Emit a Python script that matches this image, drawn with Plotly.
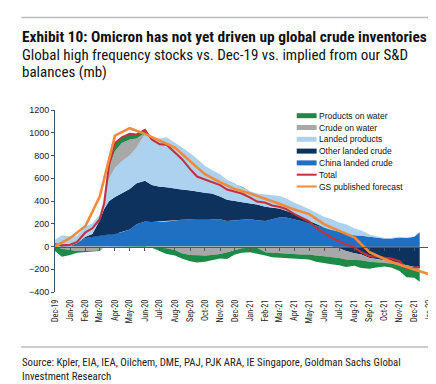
import numpy as np
import plotly.graph_objects as go

# ---------------- data (mb vs Dec-19) ----------------
dates = ["2019-12-01", "2019-12-15", "2020-01-01", "2020-01-15", "2020-02-01", "2020-02-15",
         "2020-03-01", "2020-03-10", "2020-03-20", "2020-04-01", "2020-04-15", "2020-05-01",
         "2020-05-15", "2020-06-01", "2020-06-15", "2020-07-01", "2020-07-15", "2020-08-01",
         "2020-08-15", "2020-09-01", "2020-09-15", "2020-10-01", "2020-10-15", "2020-11-01",
         "2020-11-15", "2020-12-01", "2020-12-15", "2021-01-01", "2021-01-15", "2021-02-01",
         "2021-02-15", "2021-03-01", "2021-03-15", "2021-04-01", "2021-04-15", "2021-05-01",
         "2021-05-15", "2021-06-01", "2021-06-15", "2021-07-01", "2021-07-15", "2021-08-01",
         "2021-08-15", "2021-09-01", "2021-09-15", "2021-10-01", "2021-10-15", "2021-11-01",
         "2021-11-15", "2021-12-01", "2021-12-12"]

china_landed_crude = [0, 0, 5, 30, 75, 85, 95, 100, 105, 110, 125, 150, 195, 220, 215, 215, 220,
                      230, 235, 240, 245, 245, 240, 240, 225, 230, 235, 240, 230, 225, 240, 255,
                      255, 240, 225, 200, 185, 160, 145, 130, 115, 100, 95, 85, 80, 70, 70, 80,
                      75, 85, 125]
other_landed_crude = [0, 0, 0, 0, 10, 25, 135, 230, 295, 326, 345, 355, 360, 357, 325, 310, 300,
                      280, 265, 254, 240, 225, 225, 200, 185, 170, 155, 137, 140, 125, 100, 80,
                      60, 50, 40, 25, 15, 5, 0, -15, -40, -60, -70, -100, -110, -120, -130, -145,
                      -165, -180, -190]
landed_products = [60, 100, 85, 65, 90, 95, 50, 50, 200, 254, 280, 295, 315, 410, 410, 425, 440,
                   400, 370, 326, 285, 240, 207, 195, 175, 150, 135, 108, 95, 105, 110, 110, 110,
                   95, 95, 105, 100, 95, 90, 80, 80, 60, 45, 20, 10, 5, 5, 5, 5, 5, 5]
crude_on_water = [0, -20, -30, -40, -40, -40, -30, 0, 100, 150, 160, 140, 80, 10, -5, -10, -15,
                  -30, -60, -75, -80, -80, -75, -65, -50, -30, -15, -10, -10, -50, -55, -60, -60,
                  -65, -70, -70, -80, -85, -90, -85, -75, -60, -50, -35, -30, -25, -20, -20, -25,
                  -20, -20]
products_on_water = [-40, -70, -45, -15, -10, -5, -10, 0, 20, 70, 50, 50, 35, 25, -5, -30, -50,
                     -50, -45, -55, -60, -55, -45, -40, -60, -40, -40, -40, -50, -30, -40, -40,
                     -40, -40, -40, -45, -55, -60, -65, -65, -65, -50, -70, -60, -45, -30, -35,
                     -50, -80, -75, -100]
total = [20, 10, 15, 40, 125, 160, 240, 380, 720, 910, 960, 990, 985, 1025, 940, 900, 895, 830,
         770, 680, 615, 590, 568, 540, 500, 478, 465, 430, 395, 385, 360, 350, 330, 285, 255, 220,
         165, 115, 80, 45, 20, -10, -50, -85, -90, -95, -105, -130, -190, -185, -180]

forecast_dates = ["2019-12-01", "2020-01-01", "2020-02-01", "2020-03-01", "2020-04-01",
                  "2020-05-01", "2020-06-01", "2020-07-01", "2020-08-01", "2020-09-01",
                  "2020-10-01", "2020-11-01", "2020-12-01", "2021-01-01", "2021-02-01",
                  "2021-03-01", "2021-04-01", "2021-05-01", "2021-06-01", "2021-07-01",
                  "2021-08-01", "2021-09-01", "2021-10-01", "2021-11-01", "2021-12-01",
                  "2022-01-01"]
gs_forecast = [0, 75, 180, 440, 975, 1040, 990, 930, 870, 750, 635, 565, 505, 465, 420, 375, 325,
               285, 195, 140, 80, -50, -110, -160, -205, -245]

series_names = ["China landed crude", "Other landed crude", "Landed products",
                "Crude on water", "Products on water"]
series_values = [china_landed_crude, other_landed_crude, landed_products,
                 crude_on_water, products_on_water]
series_colors = ["#1f6fc2", "#0d325e", "#acd2f0", "#a8a8a8", "#1e8a48"]

# ---------------- layout geometry (px) ----------------
WIDTH, HEIGHT = 436, 384
L, R, T, B = 47, 426, 102, 284
W, H = R - L, B - T


def fx(px):
    return (px - L) / W


def fy(py):
    return (B - py) / H


TXT = "Roboto Condensed, Liberation Sans, sans-serif"
AX = "Liberation Sans, Arial, sans-serif"

fig = go.Figure()

# stacked areas: positives stack upward, negatives stack downward
pos_base = np.zeros(len(dates))
neg_base = np.zeros(len(dates))
for name, vals, col in zip(series_names, series_values, series_colors):
    v = np.array(vals, dtype=float)
    pos = np.clip(v, 0, None)
    neg = np.clip(v, None, 0)
    up = pos_base + pos
    dn = neg_base + neg
    for top, bot in ((up, pos_base), (neg_base, dn)):
        fig.add_trace(go.Scatter(
            x=dates + dates[::-1], y=list(top) + list(bot[::-1]),
            fill="toself", fillcolor=col, mode="lines", line=dict(width=0, color=col),
            name=name, showlegend=False, hoverinfo="skip"))
    pos_base = up
    neg_base = dn

fig.add_trace(go.Scatter(x=dates, y=total, mode="lines", name="Total",
                         line=dict(color="#c4303b", width=2.1), showlegend=False))
fig.add_trace(go.Scatter(x=forecast_dates, y=gs_forecast, mode="lines",
                         name="GS published forecast",
                         line=dict(color="#f28a3c", width=2.6), showlegend=False))
# carrier for the zero-line axis
fig.add_trace(go.Scatter(x=forecast_dates[:1], y=[0], xaxis="x2", mode="lines",
                         opacity=0, showlegend=False, hoverinfo="skip"))

# ---------------- legend (drawn compactly like the original) ----------------
legend_items = [("Products on water", "#1e8a48", 5), ("Crude on water", "#a8a8a8", 5),
                ("Landed products", "#acd2f0", 5), ("Other landed crude", "#0d325e", 5),
                ("China landed crude", "#1f6fc2", 5), ("Total", "#c4303b", 2),
                ("GS published forecast", "#f28a3c", 2)]
shapes = []
annotations = []
for i, (lab, col, lw) in enumerate(legend_items):
    yy = 107.7 + i * 11.8
    shapes.append(dict(type="line", xref="paper", yref="paper", x0=fx(290), x1=fx(310),
                       y0=fy(yy), y1=fy(yy), line=dict(color=col, width=lw)))
    annotations.append(dict(text=lab, xref="paper", yref="paper", x=fx(310.5), y=fy(yy),
                            xanchor="left", yanchor="middle", showarrow=False,
                            font=dict(family=AX, size=8.5, color="#111")))

# rules
shapes.append(dict(type="line", xref="paper", yref="paper", x0=fx(13), x1=fx(431),
                   y0=fy(9.5), y1=fy(9.5), line=dict(color="#bdbdbd", width=1.5)))
shapes.append(dict(type="line", xref="paper", yref="paper", x0=fx(13), x1=fx(431),
                   y0=fy(339), y1=fy(339), line=dict(color="#bdbdbd", width=1.5)))

annotations += [
    dict(text="<b>Exhibit 10: Omicron has not yet driven up global crude inventories</b>",
         xref="paper", yref="paper", x=fx(12), y=fy(28.5), xanchor="left", yanchor="middle",
         showarrow=False, font=dict(family=TXT, size=15.4, color="#111")),
    dict(text="Global high frequency stocks vs. Dec-19 vs. implied from our S&D",
         xref="paper", yref="paper", x=fx(12), y=fy(47), xanchor="left", yanchor="middle",
         showarrow=False, font=dict(family=TXT, size=15, color="#111")),
    dict(text="balances (mb)",
         xref="paper", yref="paper", x=fx(12), y=fy(64), xanchor="left", yanchor="middle",
         showarrow=False, font=dict(family=TXT, size=15, color="#111")),
    dict(text="Source: Kpler, EIA, IEA, Oilchem, DME, PAJ, PJK ARA, IE Singapore, Goldman Sachs Global",
         xref="paper", yref="paper", x=fx(12), y=fy(354), xanchor="left", yanchor="middle",
         showarrow=False, font=dict(family=TXT, size=10.8, color="#222")),
    dict(text="Investment Research",
         xref="paper", yref="paper", x=fx(12), y=fy(368), xanchor="left", yanchor="middle",
         showarrow=False, font=dict(family=TXT, size=10.8, color="#222")),
]

xrange = ["2019-12-01", "2022-01-06"]
fig.update_layout(
    width=WIDTH, height=HEIGHT,
    margin=dict(l=L, r=WIDTH - R, t=T, b=HEIGHT - B, pad=0),
    paper_bgcolor="white", plot_bgcolor="white",
    showlegend=False,
    shapes=shapes, annotations=annotations,
    xaxis=dict(type="date", range=xrange, tick0="2019-12-01", dtick="M1",
               tickformat="%b-%y", tickangle=-90, showline=False, showgrid=False,
               zeroline=False, ticks="", ticklabelstandoff=5, ticklabeloverflow="allow",
               tickfont=dict(family=TXT, size=8.2, color="#222")),
    xaxis2=dict(type="date", matches="x", overlaying="x", anchor="free", position=0.25,
                tick0="2019-12-01", dtick="M1", showticklabels=False, showgrid=False,
                zeroline=False, showline=True, linecolor="#555", linewidth=1,
                ticks="outside", ticklen=3, tickcolor="#555"),
    yaxis=dict(range=[-400, 1200], dtick=200, showgrid=False, zeroline=False,
               showline=True, linecolor="#3d5368", linewidth=1, ticks="outside",
               ticklen=3, tickcolor="#3d5368",
               tickfont=dict(family=AX, size=9, color="#222")),
)

fig.write_html("out.html")
